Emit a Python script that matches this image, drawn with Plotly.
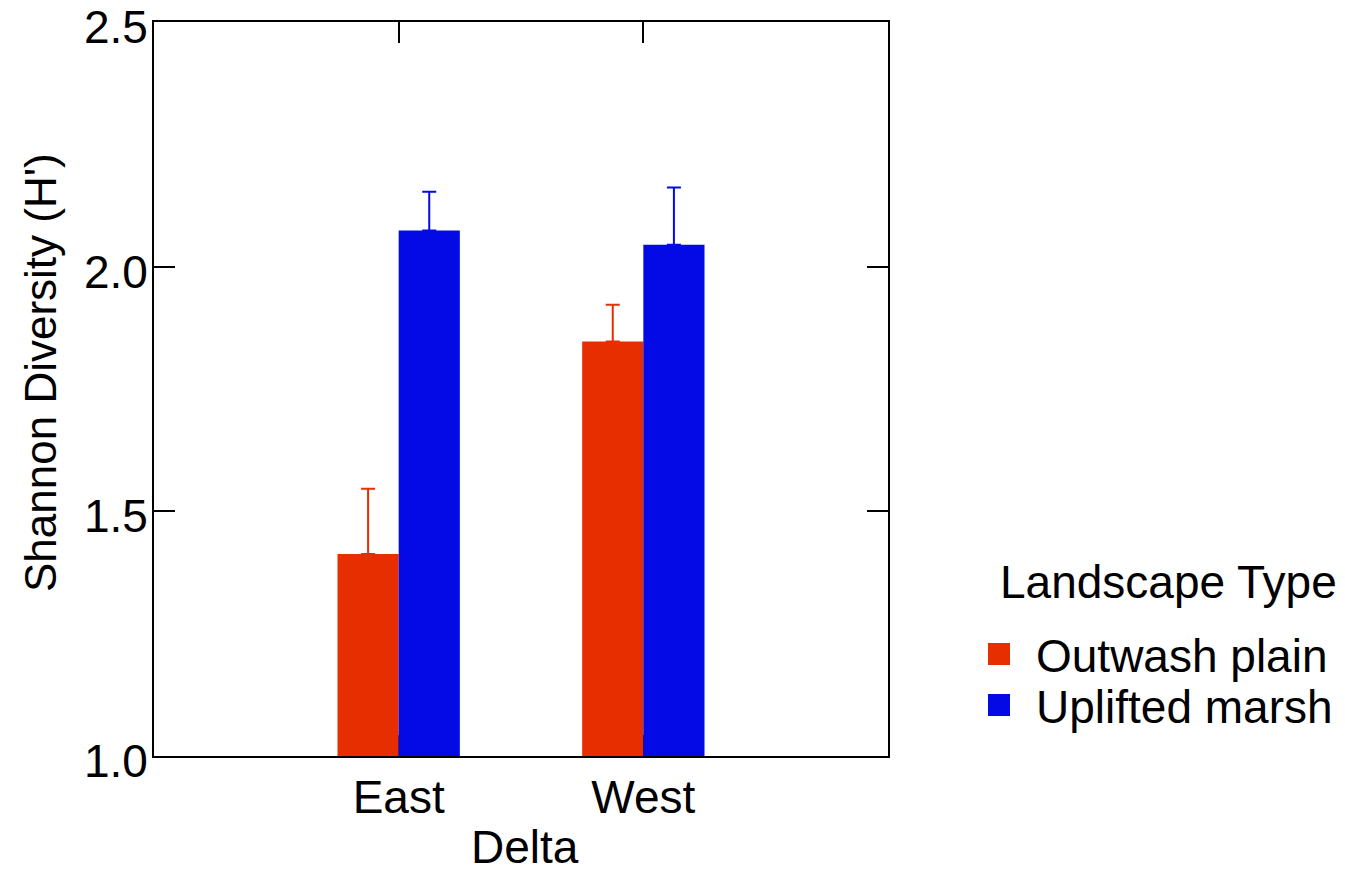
import plotly.graph_objects as go

# Shannon diversity by delta and landscape type (mean + SE)
deltas = ["East", "West"]
outwash_mean = [1.413, 1.847]
outwash_se = [0.133, 0.075]
uplifted_mean = [2.074, 2.045]
uplifted_se = [0.079, 0.117]

series_names = ["Outwash plain", "Uplifted marsh"]
colors = ["#E62E00", "#030AE6"]
y_ticks = [1.0, 1.5, 2.0, 2.5]

FONT = "Liberation Sans, Arial, sans-serif"
FS = 46

fig = go.Figure()
for name, means, ses, col in zip(series_names,
                                 [outwash_mean, uplifted_mean],
                                 [outwash_se, uplifted_se], colors):
    fig.add_trace(go.Bar(
        x=deltas, y=means, name=name, marker=dict(color=col, line=dict(width=0)),
        error_y=dict(type="data", array=ses, arrayminus=[0] * len(ses),
                     symmetric=False, color=col, thickness=2, width=7),
        showlegend=False,
    ))

L, R, T, B = 154, 457, 22, 118
W, H = 1345, 874
pw, ph = W - L - R, H - T - B

def px(x):
    return (x - L) / pw

def py(y):
    return (H - B - y) / ph

axis_common = dict(showline=True, linecolor="black", linewidth=2, mirror="ticks",
                   ticks="inside", ticklen=21, tickwidth=2, tickcolor="black",
                   showgrid=False, zeroline=False, layer="below traces",
                   ticklabeloverflow="allow", automargin=False,
                   tickfont=dict(family=FONT, size=FS, color="black"))

fig.update_layout(
    width=W, height=H,
    margin=dict(l=L, r=R, t=T, b=B, pad=0),
    plot_bgcolor="white", paper_bgcolor="white",
    barmode="group", bargap=0.5, bargroupgap=0,
    font=dict(family=FONT, size=FS, color="black"),
    xaxis=dict(axis_common, range=[-1, 2], ticklabelstandoff=0),
    yaxis=dict(axis_common, range=[1.0, 2.5], tickvals=y_ticks, showticklabels=False),
)

# y tick labels, set slightly below their ticks
for v in y_ticks:
    fig.add_annotation(x=0, y=v, xref="paper", yref="y", text=f"{v:.1f}",
                       showarrow=False, xanchor="right", yanchor="middle",
                       xshift=-5, yshift=-5, borderpad=0,
                       font=dict(family=FONT, size=FS, color="black"))

# Axis titles
fig.add_annotation(x=px(40), y=py(373), xref="paper", yref="paper",
                   text="Shannon Diversity (H')", textangle=-90, showarrow=False,
                   xanchor="center", yanchor="middle", borderpad=0,
                   font=dict(family=FONT, size=44, color="black"))
fig.add_annotation(x=px(525), y=py(847), xref="paper", yref="paper",
                   text="Delta", showarrow=False, xanchor="center", yanchor="middle",
                   borderpad=0, font=dict(family=FONT, size=FS, color="black"))

# Legend
fig.add_annotation(x=px(998), y=py(582), xref="paper", yref="paper",
                   text="Landscape Type", showarrow=False, xanchor="left", yanchor="middle",
                   font=dict(family=FONT, size=FS, color="black"))
for i, (name, col) in enumerate(zip(series_names, colors)):
    cy = 654 + i * 51
    fig.add_shape(type="rect", xref="paper", yref="paper",
                  x0=px(988), x1=px(1010), y0=py(cy - 11), y1=py(cy + 11),
                  fillcolor=col, line=dict(width=0))
    fig.add_annotation(x=px(1034), y=py(cy + 2), xref="paper", yref="paper",
                       text=name, showarrow=False, xanchor="left", yanchor="middle",
                       font=dict(family=FONT, size=FS, color="black"))

fig.write_html("out.html")
